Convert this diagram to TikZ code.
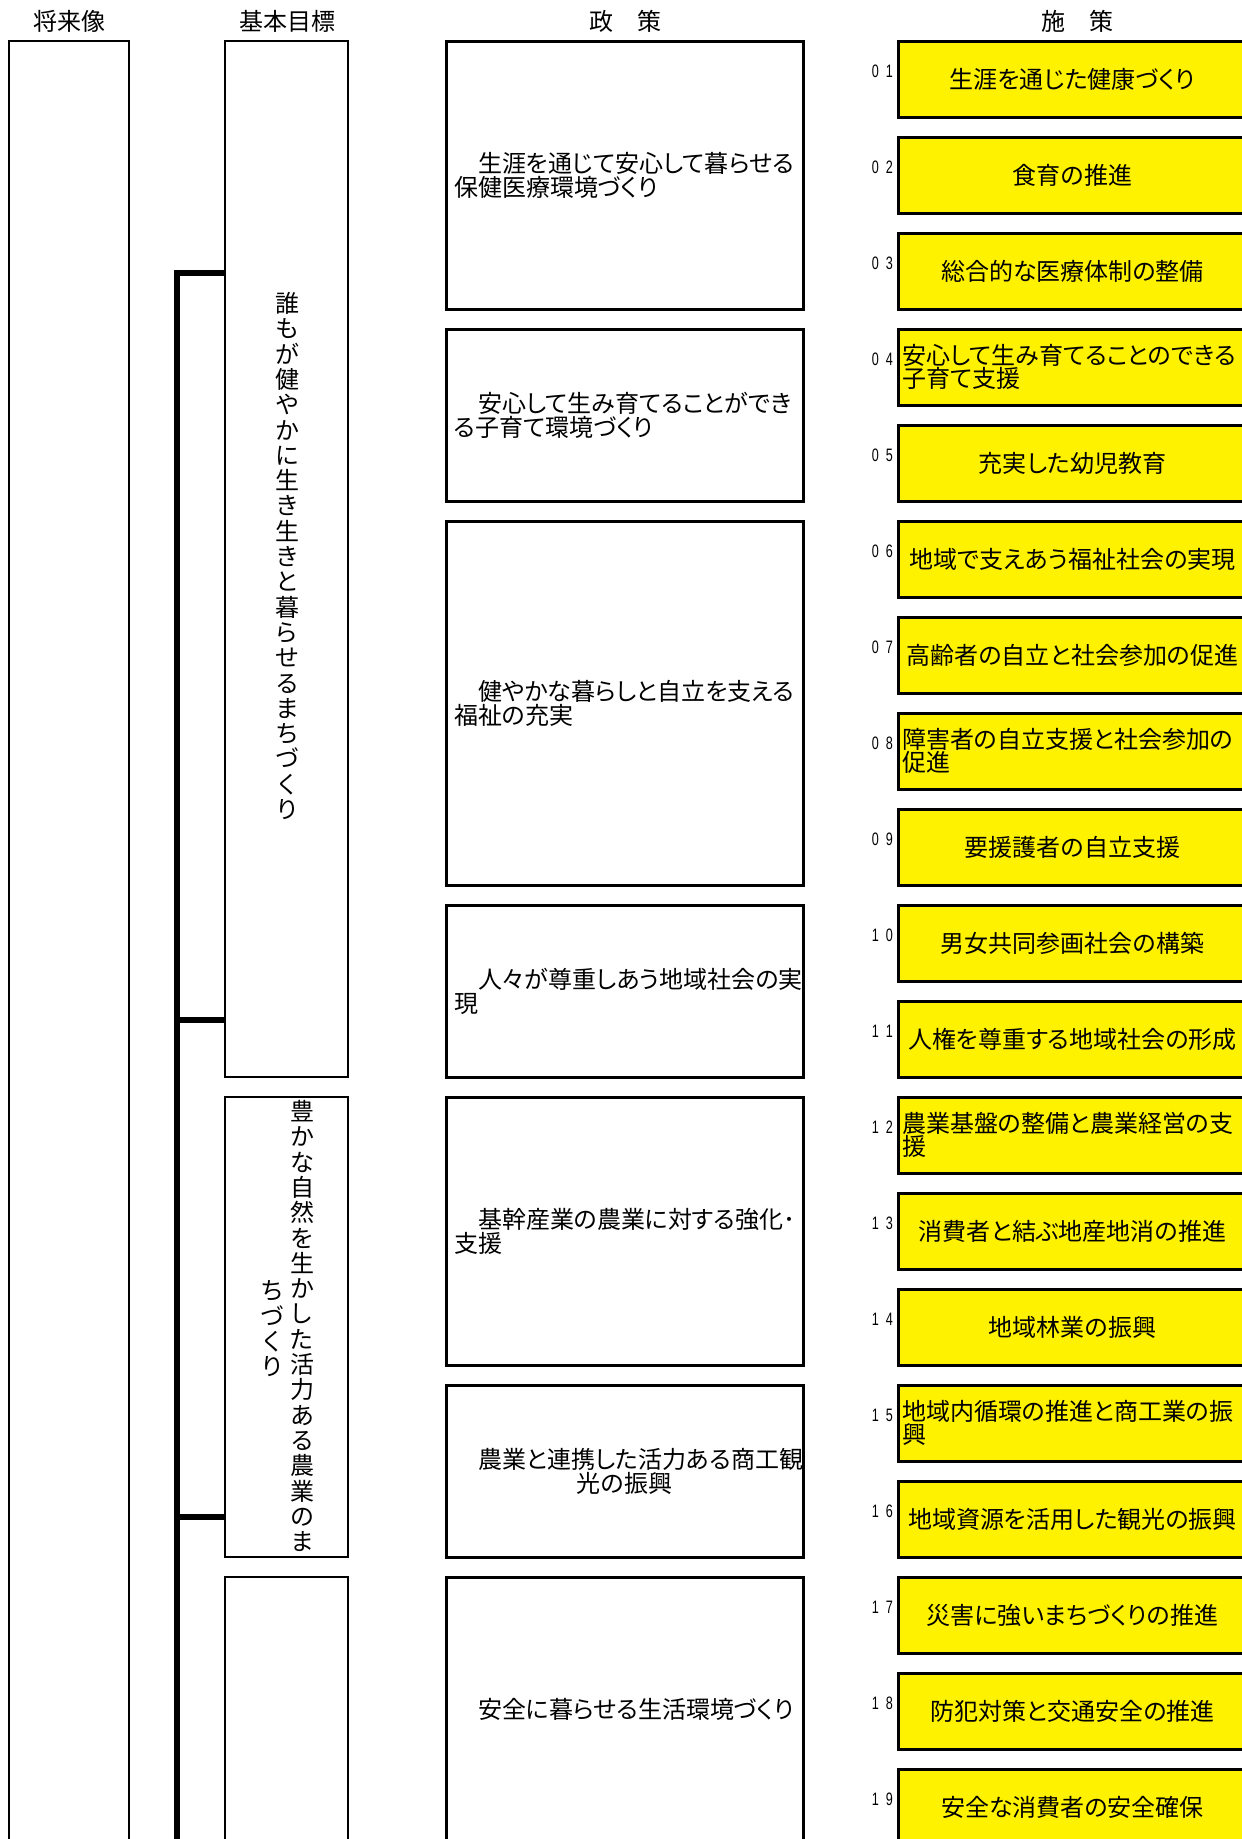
\documentclass[tikz,border=0pt]{standalone}
\usepackage{graphicx}
\usepackage{fontspec}
\setmainfont{Noto Sans CJK JP}[RawFeature=+palt]
\newfontfamily\numfont{Liberation Sans}
\usetikzlibrary{positioning}

\tikzset{
  head/.style={font=\fontsize{24}{24}\selectfont},
  visbox/.style={draw, line width=2pt, outer sep=0pt, anchor=north west, minimum width=120pt},
  goalbox/.style={draw, line width=2.5pt, outer sep=0pt, anchor=north west, minimum width=123pt},
  polbox/.style={draw, line width=3pt, outer sep=0pt, anchor=north west, inner xsep=8pt, text width=341pt, align=left, font=\fontsize{24}{24}\selectfont},
  sakubox/.style={draw, line width=3pt, outer sep=0pt, fill=yellow, anchor=north west, minimum height=76pt, inner xsep=4pt, text width=341pt, font=\fontsize{24}{23}\selectfont},
  numlabel/.style={anchor=east, inner sep=0pt, font=\numfont\fontsize{18}{18}\selectfont},
  vtext/.style={align=center, inner sep=0pt, font=\fontsize{24}{25.3}\selectfont},
  trunk/.style={line width=6pt}
}

\begin{document}
\begin{tikzpicture}[x=1pt, y=-1pt]
  \useasboundingbox (0,0) rectangle (1242,1839);
  \clip (0,0) rectangle (1242,1839);

  \node[head] (hv) at (69,21) {将来像};
  \node[head] (hg) at (287,21) {基本目標};
  \node[head] (hp) at (625,21) {政　策};
  \node[head] (hm) at (1077,21) {施　策};

  \node[visbox, minimum height=1900pt] (v) at (9,41) {};

  \node[goalbox, minimum height=1036pt] (g1) at (225,41) {};
  \node[goalbox, minimum height=460pt] (g2) at (225,1097) {};
  \node[goalbox, minimum height=400pt] (g3) at (225,1577) {};
  \node[vtext] (g1t) at (287,556) {誰\\も\\が\\健\\や\\か\\に\\生\\き\\生\\き\\と\\暮\\ら\\せ\\る\\ま\\ち\\づ\\く\\り};
  \node[vtext] (g2ta) at (302,1326) {豊\\か\\な\\自\\然\\を\\生\\か\\し\\た\\活\\力\\あ\\る\\農\\業\\の\\ま};
  \node[vtext] (g2tb) at (272,1329) {ち\\づ\\く\\り};

  \coordinate (b1) at (177,273);
  \coordinate (b2) at (177,1020);
  \coordinate (b3) at (177,1517);
  \coordinate (bend) at (177,1860);
  \draw[trunk] (b1 -| g1.west) -- (b1) -- (bend);
  \draw[trunk] (b2) -- (b2 -| g1.west);
  \draw[trunk] (b3) -- (b3 -| g2.west);

  \node[polbox, minimum height=268pt] (p1) at (446,41) {　生涯を通じて安心して暮らせる\\保健医療環境づくり};
  \node[polbox, minimum height=172pt] (p2) at (446,329) {　安心して生み育てることができ\\る子育て環境づくり};
  \node[polbox, minimum height=364pt] (p3) at (446,521) {　健やかな暮らしと自立を支える\\福祉の充実};
  \node[polbox, minimum height=172pt] (p4) at (446,905) {　人々が尊重しあう地域社会の実\\現};
  \node[polbox, minimum height=268pt] (p5) at (446,1097) {　基幹産業の農業に対する強化･\\支援};
  \node[polbox, minimum height=172pt, align=center] (p6) at (446,1385) {　農業と連携した活力ある商工観\\光の振興};
  \node[polbox, minimum height=264pt] (p7) at (446,1577) {　安全に暮らせる生活環境づくり};

  \foreach \i/\al/\txt in {
    1/center/生涯を通じた健康づくり,
    2/center/食育の推進,
    3/center/総合的な医療体制の整備,
    4/left/{安心して生み育てることのできる\\子育て支援},
    5/center/充実した幼児教育,
    6/center/地域で支えあう福祉社会の実現,
    7/center/高齢者の自立と社会参加の促進,
    8/left/{障害者の自立支援と社会参加の\\促進},
    9/center/要援護者の自立支援,
    10/center/男女共同参画社会の構築,
    11/center/人権を尊重する地域社会の形成,
    12/left/{農業基盤の整備と農業経営の支\\援},
    13/center/消費者と結ぶ地産地消の推進,
    14/center/地域林業の振興,
    15/left/{地域内循環の推進と商工業の振\\興},
    16/center/地域資源を活用した観光の振興,
    17/center/災害に強いまちづくりの推進,
    18/center/防犯対策と交通安全の推進,
    19/center/安全な消費者の安全確保}
  {
    \node[sakubox, align=\al] (m\i) at (898,{41+96*(\i-1)}) {\txt};
    \pgfmathtruncatemacro{\da}{floor(\i/10)}
    \pgfmathtruncatemacro{\db}{mod(\i,10)}
    \node[numlabel] (n\i) at ([xshift=-5pt,yshift=8pt]m\i.west) {\scalebox{0.7}[1]{\da\hspace{10pt}\db}};
  }
\end{tikzpicture}
\end{document}
